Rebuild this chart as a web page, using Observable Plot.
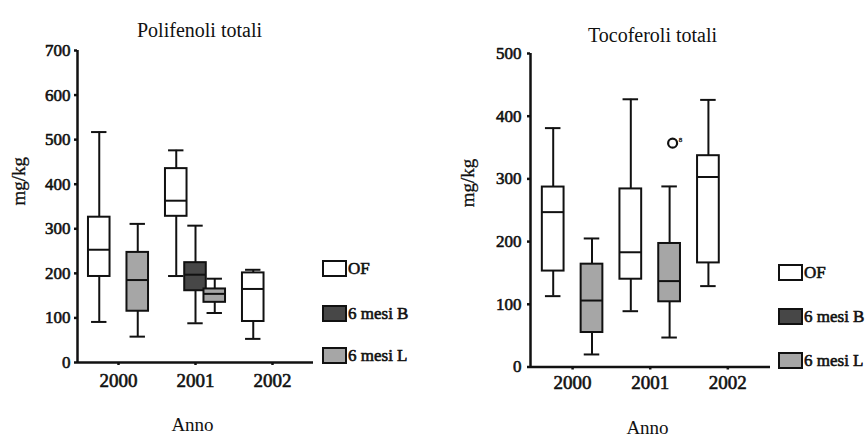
<!DOCTYPE html>
<html><head><meta charset="utf-8">
<script src="https://cdn.jsdelivr.net/npm/d3@7"></script>
<script src="https://cdn.jsdelivr.net/npm/@observablehq/plot@0.6"></script>
<style>
body{margin:0;background:#fff;}
#wrap{position:relative;width:868px;height:442px;display:flex;font-family:"Liberation Serif",serif;background:#fff;}
.leg{position:absolute;display:flex;align-items:center;font-weight:normal;font-size:17px;color:#111;line-height:1;-webkit-text-stroke:0.6px #111;font-family:"Liberation Serif",serif;}
.sw{width:21px;height:13px;border:2px solid #111;margin-right:1px;}
</style></head><body><div id="wrap"></div>
<script>
// categories
const years = ["2000", "2001", "2002"];
const series = ["OF", "6 mesi B", "6 mesi L"];
const seriesFill = ["#ffffff", "#474747", "#a6a6a6"];

// Polifenoli totali (mg/kg)
const polTitle = "Polifenoli totali";
const polTicks = [0, 100, 200, 300, 400, 500, 600, 700];
const polYear   = ["2000", "2000", "2001", "2001", "2001", "2002"];
const polSeries = ["OF", "6 mesi L", "OF", "6 mesi B", "6 mesi L", "OF"];
const polMin = [91, 58, 194, 88, 111, 53];
const polQ1  = [193, 115, 328, 161, 135, 92];
const polMed = [253, 185, 363, 197, 154, 165];
const polQ3  = [326, 247, 435, 224, 165, 201];
const polMax = [517, 311, 476, 307, 188, 208];

// Tocoferoli totali (mg/kg)
const tocTitle = "Tocoferoli totali";
const tocTicks = [0, 100, 200, 300, 400, 500];
const tocYear   = ["2000", "2000", "2001", "2001", "2002"];
const tocSeries = ["OF", "6 mesi L", "OF", "6 mesi L", "OF"];
const tocMin = [113, 20, 89, 47, 129];
const tocQ1  = [153, 55, 140, 104, 166];
const tocMed = [247, 106, 183, 137, 303];
const tocQ3  = [287, 164, 284, 197, 337];
const tocMax = [381, 205, 427, 288, 426];
const tocOutYear = ["2001"];
const tocOutSeries = ["6 mesi L"];
const tocOutValue = [357];
const tocOutLabel = ["8"];

const yLabel = "mg/kg";
const xLabel = "Anno";

// slot index: each year groups OF, B, L and a gap
const slot = (y, s) => years.indexOf(y) * 4 + series.indexOf(s);
const yearTicks = years.map(y => slot(y, "6 mesi B"));

function rowsOf(yr, se, mn, q1, md, q3, mx) {
  return yr.map((y, i) => ({year: y, series: se[i], pos: slot(y, se[i]),
    min: mn[i], q1: q1[i], med: md[i], q3: q3[i], max: mx[i]}));
}
const polRows = rowsOf(polYear, polSeries, polMin, polQ1, polMed, polQ3, polMax);
const tocRows = rowsOf(tocYear, tocSeries, tocMin, tocQ1, tocMed, tocQ3, tocMax);
const tocOut = tocOutYear.map((y, i) => ({pos: slot(y, tocOutSeries[i]), value: tocOutValue[i], label: tocOutLabel[i]}));

const HW = 0.56, CW = 0.4, SW = 2, INK = "#111";
const FF = "Liberation Serif";
const bold = {fontFamily: FF, fill: INK, stroke: INK, strokeWidth: 0.6};

function panel(o) {
  const marks = [
    Plot.ruleX(o.rows, {x: "pos", y1: "min", y2: "max", stroke: INK, strokeWidth: SW}),
    Plot.ruleY(o.rows, {y: "min", x1: d => d.pos - CW, x2: d => d.pos + CW, stroke: INK, strokeWidth: SW}),
    Plot.ruleY(o.rows, {y: "max", x1: d => d.pos - CW, x2: d => d.pos + CW, stroke: INK, strokeWidth: SW}),
    Plot.rect(o.rows, {x1: d => d.pos - HW, x2: d => d.pos + HW, y1: "q1", y2: "q3", fill: "series", stroke: INK, strokeWidth: SW}),
    Plot.ruleY(o.rows, {y: "med", x1: d => d.pos - HW, x2: d => d.pos + HW, stroke: INK, strokeWidth: SW}),
    Plot.ruleY([0], {stroke: INK, strokeWidth: 2.5}),
    Plot.ruleX([o.xDomain[0]], {stroke: INK, strokeWidth: 2.5}),
    Plot.axisY({ticks: o.yTicks, tickSize: 3, tickFormat: () => "", label: null, stroke: INK, strokeWidth: 2.5}),
    Plot.axisX({ticks: yearTicks, tickSize: 3, tickFormat: () => "", label: null, stroke: INK, strokeWidth: 2.5}),
    Plot.text(o.yTicks, {y: d => d, text: d => String(d), frameAnchor: "left", textAnchor: "end", dx: -(3 + o.yPad), fontSize: 17, ...bold}),
    Plot.text(yearTicks, {x: d => d, text: (d, i) => years[i], frameAnchor: "bottom", lineAnchor: "top", dy: 3 + o.xPad, fontSize: 19, ...bold}),
    Plot.text([o.title], {frameAnchor: "top", dx: o.tdx, dy: o.tdy, fontSize: 20, fontFamily: FF, fill: INK}),
    Plot.text([yLabel], {frameAnchor: "left", rotate: -90, dx: o.ldx, dy: o.ldy, fontSize: 19, fontFamily: FF, fill: INK, stroke: INK, strokeWidth: 0.3}),
    Plot.text([xLabel], {frameAnchor: "bottom", dx: o.adx, dy: o.ady, fontSize: 19, fontFamily: FF, fill: INK})
  ];
  if (o.out) {
    marks.push(Plot.dot(o.out, {x: "pos", y: "value", r: 4.5, stroke: INK, strokeWidth: 2.2, fill: "white", dx: 3}));
    marks.push(Plot.text(o.out, {x: "pos", y: "value", text: "label", dx: 11, dy: -3, fontSize: 7, ...bold, strokeWidth: 0.3}));
  }
  return Plot.plot({
    width: 434, height: 442,
    marginLeft: o.ml, marginRight: o.mr, marginTop: o.mt, marginBottom: o.mb,
    style: {fontFamily: FF, background: "white", color: INK, overflow: "visible"},
    x: {type: "linear", domain: o.xDomain},
    y: {domain: o.yDomain},
    color: {domain: series, range: seriesFill},
    marks
  });
}

const wrap = document.getElementById("wrap");
wrap.append(panel({rows: polRows, title: polTitle, yTicks: polTicks, yDomain: [0, 700], xDomain: [-1.13, 11.13],
  ml: 77, mr: 121, mt: 50, mb: 80, yPad: 4, xPad: 8, tdx: 4, tdy: -28, ldx: -59, ldy: -1, adx: -3, ady: 68}));
wrap.append(panel({rows: tocRows, out: tocOut, title: tocTitle, yTicks: tocTicks, yDomain: [0, 500], xDomain: [-1.17, 11.2],
  ml: 96, mr: 98, mt: 53, mb: 75.5, yPad: 6, xPad: 5, tdx: 2, tdy: -26, ldx: -63, ldy: -3, adx: -3, ady: 67}));

function legend(left, tops) {
  series.forEach((s, i) => {
    const d = document.createElement("div");
    d.className = "leg";
    d.style.left = left + "px";
    d.style.top = tops[i] + "px";
    const sw = document.createElement("div");
    sw.className = "sw";
    sw.style.background = seriesFill[i];
    d.append(sw, document.createTextNode(s));
    wrap.append(d);
  });
}
legend(322, [260, 305, 347]);
legend(778, [264, 308, 352]);
</script></body></html>
